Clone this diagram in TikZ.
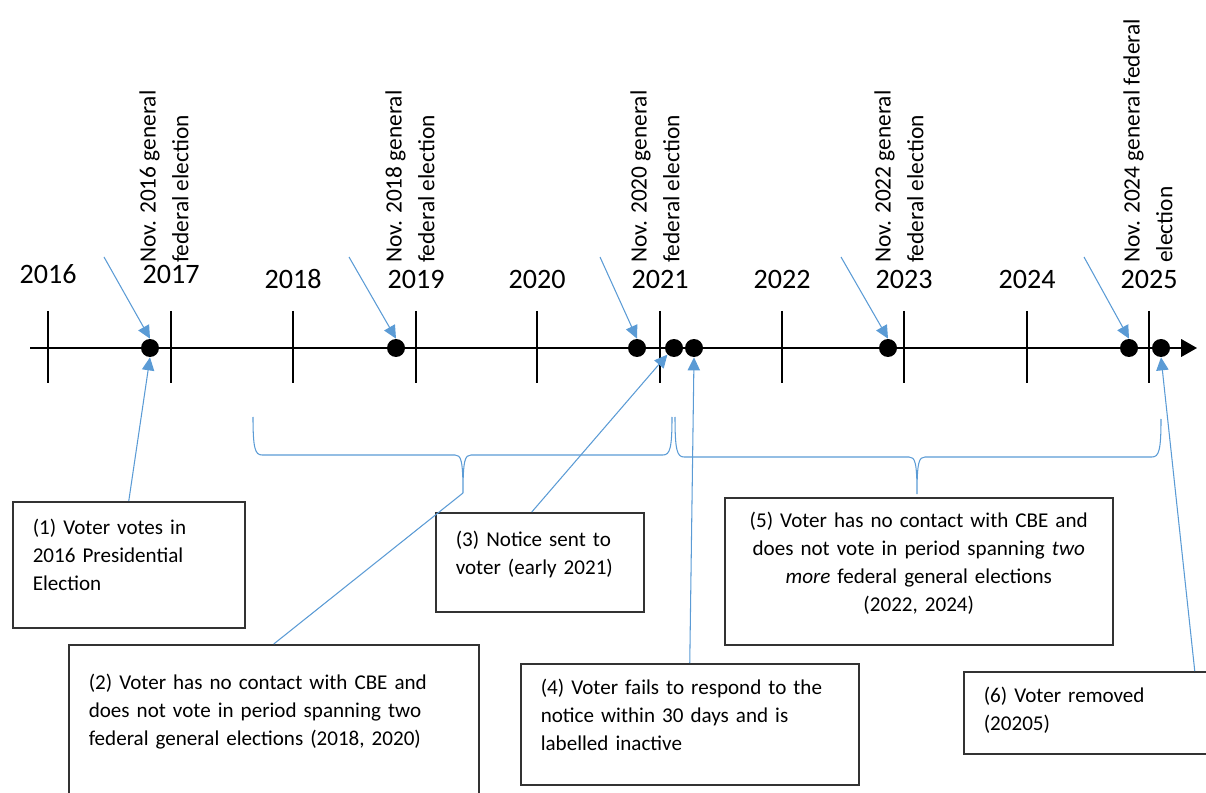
\documentclass[tikz,border=0pt]{standalone}
\usepackage{fontspec}
\setmainfont{Carlito}
\usetikzlibrary{arrows.meta,calc}
\definecolor{callblue}{RGB}{91,155,213}
\colorlet{boxgray}{black!80}
\tikzset{>=latex}

\begin{document}
\begin{tikzpicture}[x=0.02cm, y=-0.02cm,
    axisline/.style={line width=0.9pt, -{Triangle[length=9pt,width=10pt]}},
    tickline/.style={line width=0.9pt},
    year/.style={font=\fontsize{16}{19}\selectfont, anchor=base, inner sep=0pt},
    event/.style={rotate=90, anchor=north west, inner sep=0pt, align=left, font=\fontsize{13.3}{18.7}\selectfont},
    dot/.style={circle, fill=black, minimum size=0.36cm, inner sep=0pt},
    callout/.style={callblue, line width=0.6pt, -{Triangle[length=7.4pt,width=7pt]}},
    brace/.style={callblue, line width=0.6pt},
    note/.style={draw=boxgray, line width=0.9pt, anchor=north west, inner xsep=0.4cm, inner ysep=0pt, align=left, font=\fontsize{12}{15.9}\selectfont, execute at end node={\rule[-#1]{0pt}{0pt}}},
    note/.default=11pt]

    \useasboundingbox (0,0) rectangle (1206,793);
    \clip (0,0) rectangle (1206,793);

    % Time axis
    \coordinate (start) at (30,348);
    \coordinate (stop) at (1197,348);
    \draw[axisline] (start) -- (stop);
    \foreach \x/\yr/\by in {48/2016/284, 171/2017/284, 293/2018/289, 416/2019/289, 537/2020/289, 660/2021/289, 782/2022/289, 904/2023/289, 1027/2024/289, 1149/2025/289} {
        \draw[tickline] (\x,311) -- (\x,383);
        \node[year] (y\yr) at (\x,\by) {\yr};
    }

    % Elections
    \node[event] (n2016) at (139,263) {Nov. 2016 general\\federal election};
    \node[event] (n2018) at (385,263) {Nov. 2018 general\\federal election};
    \node[event] (n2020) at (630,263) {Nov. 2020 general\\federal election};
    \node[event] (n2022) at (874,263) {Nov. 2022 general\\federal election};
    \node[event] (n2024) at (1123,263) {Nov. 2024 general federal\\election};

    \foreach \i/\x in {1/150, 2/396, 3/637, 4/674, 5/694, 6/888, 7/1129, 8/1161}
        \node[dot] (d\i) at (\x,348) {};

    \foreach \i/\x in {1/104, 2/349, 3/600, 6/841, 7/1084} {
        \coordinate (e\i) at (\x,257);
        \draw[callout] (e\i) -- (d\i.north);
    }

    % Boxes
    \node[note, minimum width=4.64cm, minimum height=2.52cm, text width=3.84cm] (box1) at (12,501)
        {(1) Voter votes in\\2016 Presidential\\Election};
    \node[note=13.6pt, minimum width=8.2cm, minimum height=3.08cm, text width=7.4cm] (box2) at (68,644)
        {(2) Voter has no contact with CBE and\\does not vote in period spanning two\\federal general elections (2018, 2020)};
    \node[note, minimum width=4.16cm, minimum height=1.98cm, text width=3.36cm] (box3) at (435,512)
        {(3) Notice sent to\\voter (early 2021)};
    \node[note, minimum width=6.76cm, minimum height=2.42cm, text width=5.96cm] (box4) at (520,663)
        {(4) Voter fails to respond to the\\notice within 30 days and is\\labelled inactive};
    \node[note, align=center, minimum width=7.76cm, minimum height=2.94cm, text width=6.96cm] (box5) at (724,497)
        {(5) Voter has no contact with CBE and\\does not vote in period spanning \textit{two}\\\textit{more} federal general elections\\(2022, 2024)};
    \node[note=4.4pt, minimum width=9.24cm, minimum height=1.64cm, text width=8.44cm] (box6) at (963,671)
        {(6) Voter removed\\(20205)};

    % Braces
    \coordinate (b1) at (463,493);
    \coordinate (b2) at (917,494);
    \draw[brace] (253,417) .. controls (253,448) and (255,455) .. (262,455) -- (455,455) .. controls (461,455) and (463,460) .. (b1)
        (b1) .. controls (463,460) and (465,455) .. (471,455) -- (663,455) .. controls (670,455) and (672,448) .. (672,417);
    \draw[brace] (675,417) .. controls (675,450) and (677,457) .. (684,457) -- (909,457) .. controls (915,457) and (917,462) .. (b2)
        (b2) .. controls (917,462) and (919,457) .. (925,457) -- (1152,457) .. controls (1159,457) and (1161,450) .. (1161,419);
    \draw[brace] (b1) -- (box2.north);

    % Callouts
    \draw[callout] (box1.north) -- (d1.south);
    \draw[callout] ([xshift=-0.16cm]box3.north) -- (d4.south west);
    \draw[callout] (box4.north) -- (d5.south);
    \draw[callout] (box6.north) -- (d8.south);
\end{tikzpicture}
\end{document}
